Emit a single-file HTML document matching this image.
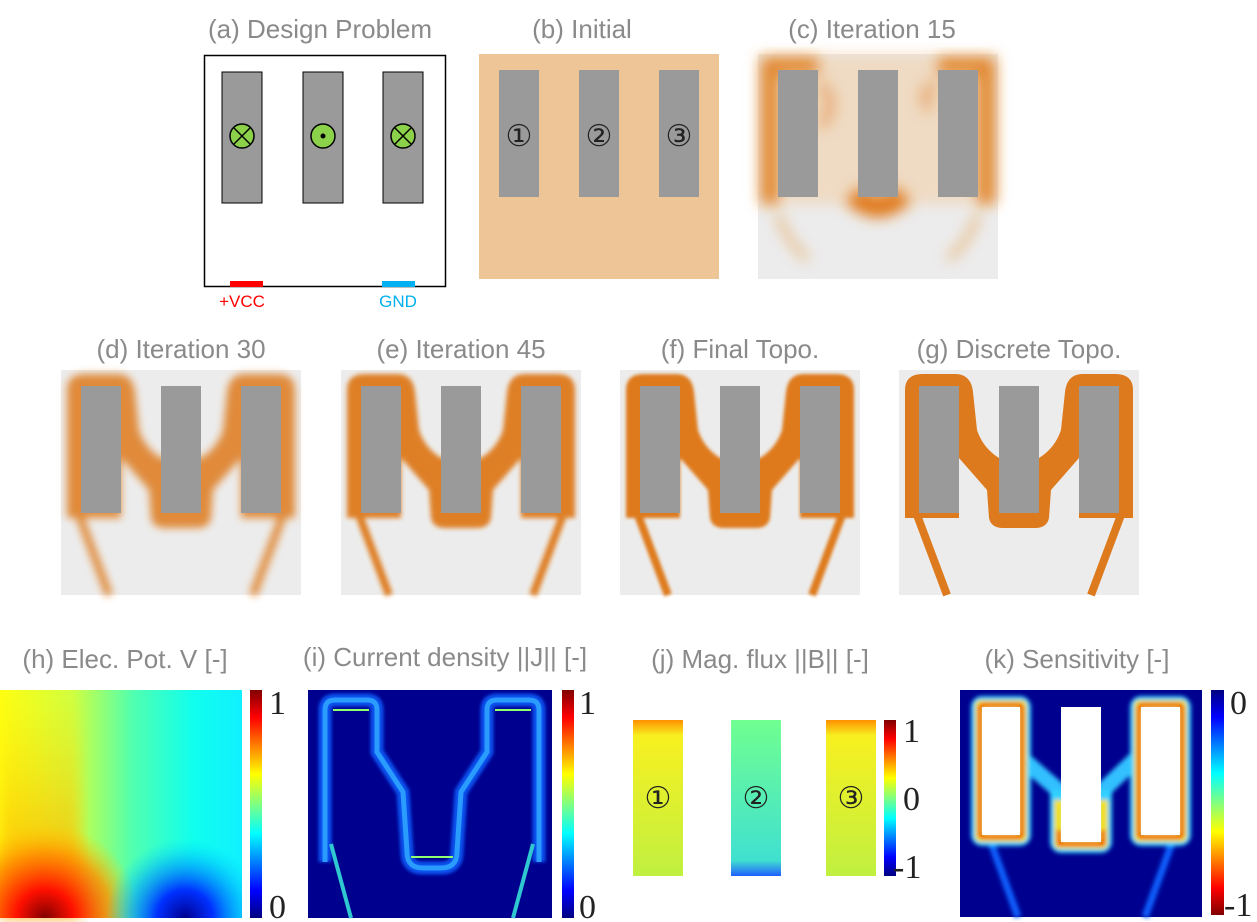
<!DOCTYPE html>
<html><head><meta charset="utf-8"><style>
html,body{margin:0;padding:0;background:#fff;}
svg{display:block;font-family:"Liberation Sans",sans-serif;}
.t{font-size:26px;fill:#8a8a8a;text-anchor:middle;}
.n{font-family:"Liberation Serif",serif;font-size:30px;fill:#222;text-anchor:middle;}
.c{font-family:"Liberation Serif",serif;font-size:34px;fill:#222;}
</style></head><body>
<svg width="1257" height="922" viewBox="0 0 1257 922" xmlns="http://www.w3.org/2000/svg">
<defs>
<linearGradient id="jet" x1="0" y1="0" x2="0" y2="1">
<stop offset="0" stop-color="#800000"/><stop offset="0.12" stop-color="#ff0000"/><stop offset="0.37" stop-color="#ffff00"/><stop offset="0.5" stop-color="#80ff80"/><stop offset="0.63" stop-color="#00ffff"/><stop offset="0.88" stop-color="#0000ff"/><stop offset="1" stop-color="#000080"/></linearGradient>
<linearGradient id="jetr" x1="0" y1="1" x2="0" y2="0">
<stop offset="0" stop-color="#800000"/><stop offset="0.12" stop-color="#ff0000"/><stop offset="0.37" stop-color="#ffff00"/><stop offset="0.5" stop-color="#80ff80"/><stop offset="0.63" stop-color="#00ffff"/><stop offset="0.88" stop-color="#0000ff"/><stop offset="1" stop-color="#000080"/></linearGradient>
<linearGradient id="hx" x1="0" y1="0" x2="1" y2="0">
<stop offset="0" stop-color="#ffff10"/><stop offset="0.3" stop-color="#d0ff40"/><stop offset="0.55" stop-color="#50ffb0"/><stop offset="0.8" stop-color="#10ffee"/><stop offset="1" stop-color="#10f0ff"/></linearGradient>
<linearGradient id="hl" x1="0" y1="0" x2="0" y2="1"><stop offset="0" stop-color="#ffd000" stop-opacity="0"/><stop offset="1" stop-color="#ffa000" stop-opacity="0.9"/></linearGradient>
<radialGradient id="hr" cx="45" cy="918" r="95" gradientUnits="userSpaceOnUse"><stop offset="0" stop-color="#800000"/><stop offset="0.3" stop-color="#ff1000"/><stop offset="0.7" stop-color="#ff9000" stop-opacity="0.8"/><stop offset="1" stop-color="#ffd000" stop-opacity="0"/></radialGradient>
<radialGradient id="hb" cx="185" cy="918" r="80" gradientUnits="userSpaceOnUse"><stop offset="0" stop-color="#000090"/><stop offset="0.35" stop-color="#0030ff"/><stop offset="0.7" stop-color="#00a0ff" stop-opacity="0.6"/><stop offset="1" stop-color="#00e0ff" stop-opacity="0"/></radialGradient>
<linearGradient id="j1" x1="0" y1="0" x2="0" y2="1"><stop offset="0" stop-color="#ff9000"/><stop offset="0.1" stop-color="#f8f020"/><stop offset="1" stop-color="#c0f040"/></linearGradient>
<linearGradient id="j2" x1="0" y1="0" x2="0" y2="1"><stop offset="0" stop-color="#70ff90"/><stop offset="0.9" stop-color="#40e0d0"/><stop offset="1" stop-color="#2060ff"/></linearGradient>
<filter id="b1"><feGaussianBlur stdDeviation="7"/></filter>
<filter id="b2"><feGaussianBlur stdDeviation="4"/></filter>
<filter id="b3"><feGaussianBlur stdDeviation="2.5"/></filter>
<filter id="b4"><feGaussianBlur stdDeviation="1.5"/></filter>
<filter id="bk"><feGaussianBlur stdDeviation="2"/></filter>
<g id="topo" fill="#de7a1e">
<path d="M6 148 L6 20 Q6 4 24 4 L56 4 Q72 4 74 22 L78 60 Q84 78 100 88 L140 88 Q156 78 162 60 L166 22 Q168 4 184 4 L216 4 Q234 4 234 20 L234 148 L180 148 L180 88 L152 120 L150 148 Q148 158 136 158 L104 158 Q92 158 90 148 L88 120 L60 88 L60 148 Z"/>
<path d="M18 145 L48 225 M222 145 L192 225" stroke="#de7a1e" stroke-width="8" fill="none"/>
</g>
<g id="rects"><rect x="20" y="16" width="40" height="127" fill="#9a9a9a"/><rect x="100" y="16" width="40" height="127" fill="#9a9a9a"/><rect x="180" y="16" width="40" height="127" fill="#9a9a9a"/></g>
<path id="ipath" d="M14 170 L14 18 Q14 8 24 8 L56 8 Q66 8 66 18 L66 60 L92 100 L96 160 Q96 176 112 176 L130 176 Q146 176 146 160 L150 100 L176 60 L176 18 Q176 8 186 8 L218 8 Q228 8 228 18 L228 170" fill="none" stroke-linejoin="round"/>
</defs>

<!-- (a) -->
<text class="t" x="320" y="38">(a) Design Problem</text>
<rect x="204.5" y="55.5" width="241" height="231" fill="none" stroke="#000" stroke-width="1.5"/>
<g stroke="#000" stroke-width="1" fill="#9a9a9a"><rect x="222" y="72" width="40" height="131"/><rect x="303" y="72" width="40" height="131"/><rect x="383" y="72" width="40" height="131"/></g>
<g stroke="#000" stroke-width="1.5" fill="#8cd14a"><circle cx="242" cy="136" r="12"/><circle cx="323" cy="136" r="12"/><circle cx="403" cy="136" r="12"/></g>
<path d="M234 128 L250 144 M250 128 L234 144 M395 128 L411 144 M411 128 L395 144" stroke="#000" stroke-width="1.5"/>
<circle cx="323" cy="136" r="2.5" fill="#000"/>
<rect x="230" y="281" width="33" height="6" fill="#f00"/><rect x="382" y="281" width="33" height="6" fill="#00b0f0"/>
<text x="242" y="307" font-size="17" fill="#f00" text-anchor="middle">+VCC</text>
<text x="398" y="307" font-size="17" fill="#00b0f0" text-anchor="middle">GND</text>

<!-- (b) -->
<text class="t" x="582" y="38">(b) Initial</text>
<rect x="479" y="54" width="240" height="225" fill="#eec597"/>
<g transform="translate(479,54)"><use href="#rects"/></g>
<text class="n" x="519" y="146">①</text><text class="n" x="599" y="146">②</text><text class="n" x="679" y="146">③</text>

<!-- (c) -->
<text class="t" x="872" y="38">(c) Iteration 15</text>
<g transform="translate(758,54)">
<rect width="240" height="225" fill="#ececec"/>
<rect x="0" y="0" width="240" height="150" fill="#f2cfa8" opacity="0.6" filter="url(#b1)"/>
<g filter="url(#b1)" fill="none" stroke="#e07a1a">
<path d="M12 150 L12 12 L60 12 M180 12 L228 12 L228 150" stroke-width="16" opacity="0.9"/>
<path d="M95 140 Q120 165 145 140" stroke-width="22"/>
<path d="M62 30 Q82 50 62 72 M178 30 Q160 40 172 55" stroke-width="8" opacity="0.6"/>
<path d="M20 160 Q30 190 50 205 M220 160 Q210 190 190 205" stroke-width="6" opacity="0.5"/>
</g>
<use href="#rects"/></g>

<!-- row 2 -->
<text class="t" x="181" y="358">(d) Iteration 30</text>
<text class="t" x="461" y="358">(e) Iteration 45</text>
<text class="t" x="740" y="358">(f) Final Topo.</text>
<text class="t" x="1019" y="358">(g) Discrete Topo.</text>
<g transform="translate(61,370)"><rect width="240" height="225" fill="#ececec"/><g filter="url(#b2)" opacity="0.85"><use href="#topo"/></g><use href="#rects"/></g>
<g transform="translate(341,370)"><rect width="240" height="225" fill="#ececec"/><g filter="url(#b3)" opacity="0.95"><use href="#topo"/></g><use href="#rects"/></g>
<g transform="translate(620,370)"><rect width="240" height="225" fill="#ececec"/><g filter="url(#b4)"><use href="#topo"/></g><use href="#rects"/></g>
<g transform="translate(899,370)"><rect width="240" height="225" fill="#ececec"/><use href="#topo"/><use href="#rects"/></g>

<!-- (h) -->
<text class="t" x="125" y="668">(h) Elec. Pot. V [-]</text>
<rect x="0" y="690" width="242" height="228" fill="url(#hx)"/>
<rect x="0" y="690" width="80" height="228" fill="url(#hl)" filter="url(#b1)"/>
<rect x="0" y="690" width="242" height="228" fill="url(#hr)"/>
<rect x="0" y="690" width="242" height="228" fill="url(#hb)"/>
<rect x="250" y="690" width="12" height="228" fill="url(#jet)"/>
<text class="c" x="269" y="714">1</text><text class="c" x="269" y="918">0</text>

<!-- (i) -->
<text class="t" x="445" y="666">(i) Current density ||J|| [-]</text>
<rect x="308" y="690" width="244" height="228" fill="#00008f"/>
<g transform="translate(311,692)">
<use href="#ipath" stroke="#1060ff" stroke-width="13" opacity="0.85" filter="url(#b4)"/>
<use href="#ipath" stroke="#2a9cff" stroke-width="5"/>
<path d="M20 152 L40 226 M222 152 L202 226" stroke="#30c8d0" stroke-width="4"/>
<path d="M22 18 L58 18 M184 18 L220 18 M100 165 L142 165" stroke="#90ff70" stroke-width="2"/>
</g>
<rect x="562" y="690" width="12" height="228" fill="url(#jet)"/>
<text class="c" x="579" y="714">1</text><text class="c" x="579" y="918">0</text>

<!-- (j) -->
<text class="t" x="760" y="668">(j) Mag. flux ||B|| [-]</text>
<rect x="633" y="720" width="50" height="156" fill="url(#j1)"/>
<rect x="731" y="720" width="50" height="156" fill="url(#j2)"/>
<rect x="826" y="720" width="50" height="156" fill="url(#j1)"/>
<text class="n" x="658" y="808">①</text><text class="n" x="756" y="808">②</text><text class="n" x="851" y="808">③</text>
<rect x="884" y="720" width="12" height="156" fill="url(#jet)"/>
<text class="c" x="903" y="742">1</text><text class="c" x="903" y="810">0</text><text class="c" x="893" y="878">-1</text>

<!-- (k) -->
<text class="t" x="1077" y="668">(k) Sensitivity [-]</text>
<rect x="960" y="690" width="242" height="227" fill="#00008f"/>
<g filter="url(#bk)" fill="none" stroke-linejoin="round">
<path d="M990 840 L1018 917 M1173 840 L1145 917" stroke="#1060ff" stroke-width="7"/>
<path d="M1018 755 L1064 795 M1140 755 L1098 795" stroke="#30c0ff" stroke-width="16"/>
<g stroke="#30d0ff" stroke-width="22"><rect x="982" y="707" width="38" height="128"/><rect x="1141" y="707" width="39" height="128"/><path d="M1061 790 L1061 842 L1101 842 L1101 790"/></g>
<g stroke="#f0e020" stroke-width="10"><rect x="980" y="705" width="42" height="132"/><rect x="1139" y="705" width="43" height="132"/><path d="M1059 800 L1059 844 L1103 844 L1103 800"/></g>
<g stroke="#f02000" stroke-width="4"><rect x="980" y="705" width="42" height="132" rx="3"/><rect x="1139" y="705" width="43" height="132" rx="3"/><path d="M1059 830 L1059 844 L1103 844 L1103 830"/></g>
</g>
<rect x="982" y="707" width="38" height="128" fill="#fff"/>
<rect x="1061" y="707" width="40" height="135" fill="#fff"/>
<rect x="1141" y="707" width="39" height="128" fill="#fff"/>
<rect x="1211" y="690" width="13" height="225" fill="url(#jetr)"/>
<text class="c" x="1230" y="714">0</text><text class="c" x="1224" y="916">-1</text>
</svg>
</body></html>
